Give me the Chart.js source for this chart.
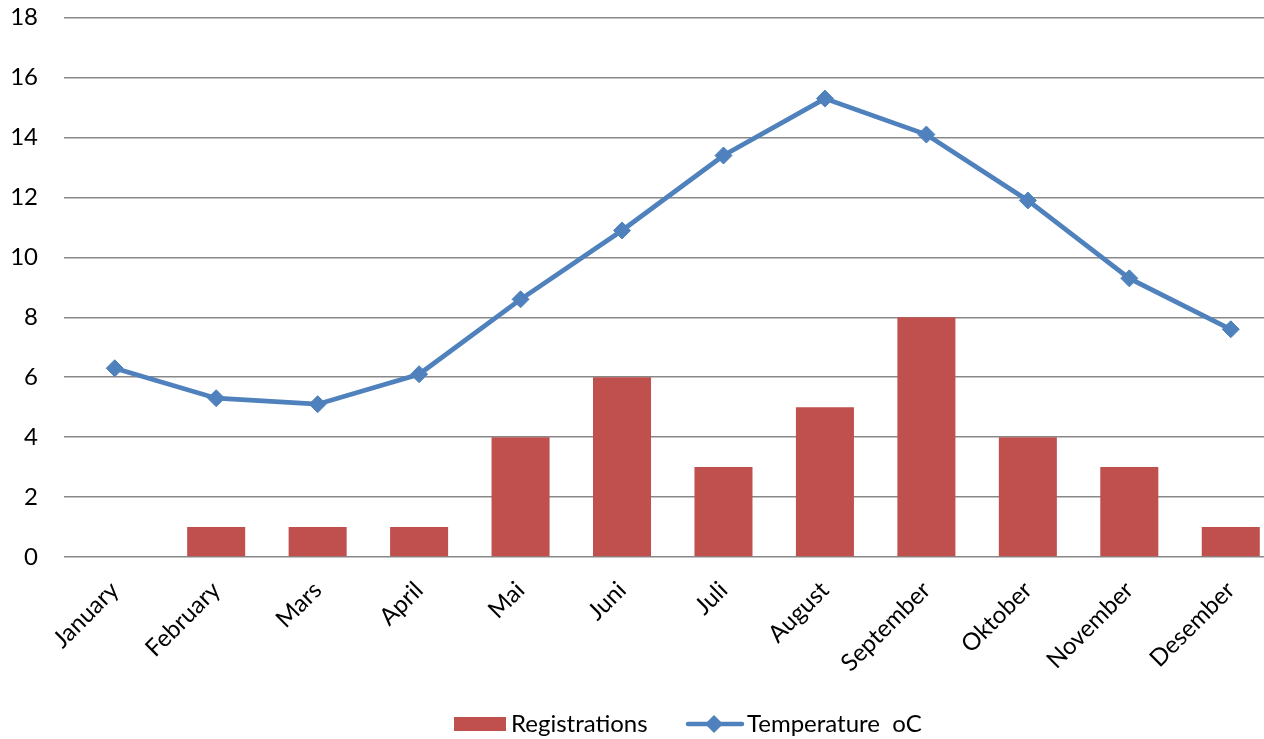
<!DOCTYPE html>
<html>
<head>
<meta charset="utf-8">
<script src="https://cdn.jsdelivr.net/npm/chart.js@4/dist/chart.umd.min.js"></script>
<style>
  html, body { margin: 0; padding: 0; background: #fff; overflow: hidden; }
  #wrap { width: 1291px; height: 739px; position: relative; }
</style>
</head>
<body>
<div id="wrap"><canvas id="c"></canvas></div>
<script>
const months = ['January', 'February', 'Mars', 'April', 'Mai', 'Juni', 'Juli', 'August', 'September', 'Oktober', 'November', 'Desember'];
const registrations = [0, 1, 1, 1, 4, 6, 3, 5, 8, 4, 3, 1];
const temperature = [6.3, 5.3, 5.1, 6.1, 8.6, 10.9, 13.4, 15.3, 14.1, 11.9, 9.3, 7.6];
const yTicks = [0, 2, 4, 6, 8, 10, 12, 14, 16, 18];

const RED = '#C0504D';
const BLUE = '#4F81BD';
const GRID = '#888888';
const FONT = 'Lato, "Open Sans", sans-serif';

// Legend drawn at the bottom: a filled box for the bars, a line with a diamond for the temperature series
const bottomLegend = {
  id: 'bottomLegend',
  afterDraw(chart) {
    const ctx = chart.ctx;
    const y = 724;
    ctx.save();
    ctx.font = '24px ' + FONT;
    ctx.textBaseline = 'middle';

    ctx.fillStyle = RED;
    ctx.fillRect(454, 717, 52, 14);
    ctx.fillStyle = '#000';
    ctx.textAlign = 'left';
    ctx.fillText(chart.data.datasets[0].label, 511, y);

    ctx.strokeStyle = BLUE;
    ctx.lineWidth = 4.5;
    ctx.lineCap = 'round';
    ctx.beginPath();
    ctx.moveTo(688, y);
    ctx.lineTo(742, y);
    ctx.stroke();
    ctx.fillStyle = BLUE;
    ctx.beginPath();
    ctx.moveTo(714, y - 9);
    ctx.lineTo(723, y);
    ctx.lineTo(714, y + 9);
    ctx.lineTo(705, y);
    ctx.closePath();
    ctx.fill();
    ctx.fillStyle = '#000';
    ctx.fillText(chart.data.datasets[1].label, 747, y);
    ctx.restore();
  }
};

new Chart(document.getElementById('c'), {
  data: {
    labels: months,
    datasets: [
      {
        type: 'bar',
        label: 'Registrations',
        data: registrations,
        backgroundColor: RED,
        borderWidth: 0,
        categoryPercentage: 1,
        barPercentage: 0.572,
        order: 2
      },
      {
        type: 'line',
        label: 'Temperature  oC',
        data: temperature,
        borderColor: BLUE,
        backgroundColor: BLUE,
        borderWidth: 4.8,
        tension: 0,
        pointStyle: 'rectRot',
        pointRadius: 8.5,
        pointBorderWidth: 1,
        pointBackgroundColor: BLUE,
        pointBorderColor: BLUE,
        order: 1
      }
    ]
  },
  options: {
    responsive: true,
    maintainAspectRatio: false,
    animation: false,
    layout: { padding: { top: 17.7, left: 0, right: 0, bottom: 0 } },
    plugins: {
      legend: { display: false },
      tooltip: { enabled: false }
    },
    scales: {
      x: {
        grid: { display: false, drawTicks: false },
        border: { display: false },
        ticks: {
          color: '#000',
          font: { family: FONT, size: 24 },
          maxRotation: 45,
          minRotation: 45,
          padding: 19,
          autoSkip: false
        },
        afterFit(scale) {
          scale.height = 182;
          scale.paddingLeft = 0;
          scale.paddingRight = 0;
        }
      },
      y: {
        min: 0,
        max: 18,
        afterBuildTicks(scale) { scale.ticks = yTicks.map(v => ({ value: v })); },
        grid: { color: GRID, lineWidth: 1.5, drawTicks: false },
        border: { display: false },
        ticks: {
          color: '#000',
          font: { family: FONT, size: 24 },
          padding: 26
        },
        afterFit(scale) {
          scale.width = 64;
          scale.paddingTop = 0;
          scale.paddingBottom = 0;
        }
      }
    }
  },
  plugins: [bottomLegend]
});
</script>
</body>
</html>
